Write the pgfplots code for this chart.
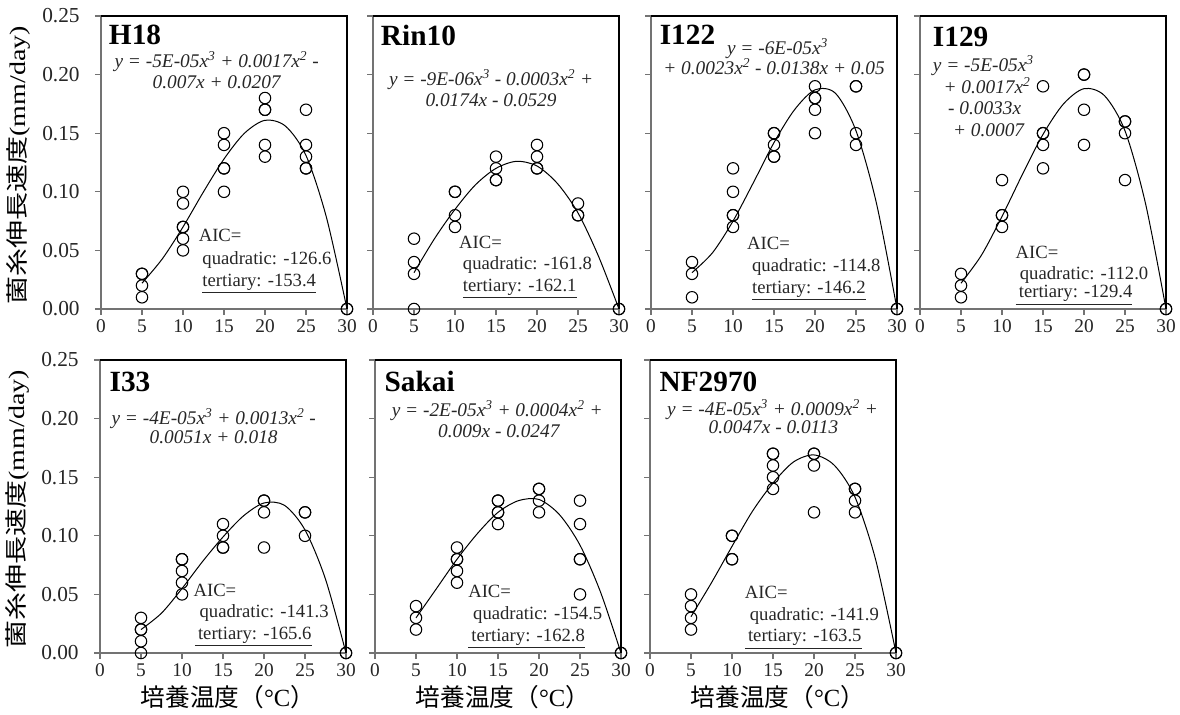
\documentclass[border=0pt]{standalone}
\usepackage{pgfplots}
\pgfplotsset{compat=1.18}
\usepackage{fontspec}
\setmainfont{Liberation Serif}
\newfontfamily\cjk{Noto Sans CJK JP}
\newcommand\tkf{\fontsize{14.5}{16}\selectfont}
\newcommand\tkyf{\fontsize{16}{18}\selectfont}
\newcommand\ttl{\fontsize{22}{24}\selectfont\bfseries}
\newcommand\eqf{\fontsize{14.5}{17}\selectfont\itshape}
\newcommand\aicf{\fontsize{14}{16}\selectfont}
\newcommand\sq{\textsuperscript{2}}
\newcommand\cb{\textsuperscript{3}}
\pgfplotsset{
  panel/.style={
    scale only axis, width=184.5pt, height=219.75pt,
    xmin=0, xmax=30, ymin=0, ymax=0.25,
    xtick={0,5,10,15,20,25,30},
    ytick={0,0.05,0.1,0.15,0.2,0.25},
    tick align=outside, major tick length=4.5pt,
    axis x line*=bottom, axis y line*=left,
    axis line style={black!55, line width=0.9pt},
    tick style={black!55, line width=0.9pt},
    xticklabel style={font=\tkf, text=black!85},
    /pgf/number format/assume math mode=true,
    yticklabel style={font=\tkyf, text=black!85, xshift=-8pt, /pgf/number format/fixed, /pgf/number format/fixed zerofill, /pgf/number format/precision=2},
    clip=false,
    after end axis/.code={\draw[black, line width=0.8pt] (rel axis cs:0,1) -- (rel axis cs:1,1) -- (rel axis cs:1,0);},
  },
  noy/.style={yticklabels={}},
  ylab/.style={ylabel={\scalebox{1}[0.8]{{\cjk 菌糸伸長速度}(mm/day)}}, ylabel style={font=\fontsize{21}{23}\selectfont, at={(axis description cs:-0.337,0.49)}, anchor=center}},
  xlab/.style={xlabel={{\cjk 培養温度（}°C{\cjk ）}}, xlabel style={font=\fontsize{18.5}{20}\selectfont, at={(axis description cs:0.52,-0.15)}, anchor=center}},
  pts/.style={only marks, mark=o, mark size=4.3pt, black, mark options={line width=0.8pt}},
  fit/.style={smooth, black, line width=0.75pt, no marks},
}
\begin{document}
\begin{tikzpicture}
\useasboundingbox (0,0) rectangle (885pt,535.5pt);
% ---------- H18
\begin{axis}[panel, ylab, at={(75.75pt,303.75pt)}, anchor=south west]
\addplot[pts] table {
x y
5 0.03
5 0.03
5 0.02
5 0.01
10 0.10
10 0.09
10 0.07
10 0.07
10 0.06
10 0.05
15 0.15
15 0.14
15 0.12
15 0.12
15 0.10
20 0.18
20 0.17
20 0.17
20 0.14
20 0.13
25 0.17
25 0.14
25 0.13
25 0.12
25 0.12
30 0
30 0
};
\addplot[fit] table {
x y
5 0.022
7.5 0.043
10 0.070
12.5 0.100
15 0.128
17.5 0.150
20 0.161
22.5 0.156
25 0.131
27.5 0.078
30 0
};
\node[anchor=base west, font=\ttl] at (axis cs:0.4,0.226) {H18};
\node[anchor=base, font=\eqf, text=black!85] at (axis cs:14.1,0.206) {y = -5E-05x\cb{} + 0.0017x\sq{} -};
\node[anchor=base, font=\eqf, text=black!85] at (axis cs:14.1,0.188) {0.007x + 0.0207};
\node[anchor=base west, font=\aicf, text=black!85] at (axis cs:11.35,0.0577) {AIC=};
\node[anchor=base west, font=\aicf, text=black!85] at (axis cs:11.8,0.0378) {quadratic: -126.6};
\node[anchor=base west, font=\aicf, text=black!85] at (axis cs:11.8,0.0193) {\underline{tertiary: -153.4}};
\end{axis}
% ---------- Rin10
\begin{axis}[panel, noy, at={(279.75pt,303.75pt)}, anchor=south west]
\addplot[pts] table {
x y
5 0.06
5 0.04
5 0.03
5 0
10 0.10
10 0.10
10 0.08
10 0.07
15 0.13
15 0.12
15 0.11
15 0.11
20 0.14
20 0.13
20 0.12
20 0.12
25 0.09
25 0.08
25 0.08
30 0
30 0
};
\addplot[fit] table {
x y
5 0.031
7.5 0.060
10 0.085
12.5 0.106
15 0.120
17.5 0.126
20 0.122
22.5 0.107
25 0.082
27.5 0.045
30 0
};
\node[anchor=base west, font=\ttl] at (axis cs:0.4,0.2244) {Rin10};
\node[anchor=base, font=\eqf, text=black!85] at (axis cs:14.4,0.191) {y = -9E-06x\cb{} - 0.0003x\sq{} +};
\node[anchor=base, font=\eqf, text=black!85] at (axis cs:14.4,0.173) {0.0174x - 0.0529};
\node[anchor=base west, font=\aicf, text=black!85] at (axis cs:9.93,0.052) {AIC=};
\node[anchor=base west, font=\aicf, text=black!85] at (axis cs:10.4,0.0335) {quadratic: -161.8};
\node[anchor=base west, font=\aicf, text=black!85] at (axis cs:10.4,0.015) {\underline{tertiary: -162.1}};
\end{axis}
% ---------- I122
\begin{axis}[panel, noy, at={(488.25pt,303.75pt)}, anchor=south west]
\addplot[pts] table {
x y
5 0.04
5 0.03
5 0.01
10 0.12
10 0.10
10 0.08
10 0.08
10 0.07
15 0.15
15 0.15
15 0.14
15 0.13
15 0.13
20 0.19
20 0.18
20 0.18
20 0.17
20 0.15
25 0.19
25 0.19
25 0.15
25 0.14
30 0
30 0
};
\addplot[fit] table {
x y
5 0.031
7.5 0.048
10 0.075
12.5 0.108
15 0.142
17.5 0.170
20 0.187
22.5 0.184
25 0.152
27.5 0.090
30 0
};
\node[anchor=base west, font=\ttl] at (axis cs:0.5,0.2253) {I122};
\node[anchor=base west, font=\eqf, text=black!85] at (axis cs:8.7,0.2168) {y = -6E-05x\cb};
\node[anchor=base, font=\eqf, text=black!85] at (axis cs:15.0,0.1997) {+ 0.0023x\sq{} - 0.0138x + 0.05};
\node[anchor=base west, font=\aicf, text=black!85] at (axis cs:11.15,0.0506) {AIC=};
\node[anchor=base west, font=\aicf, text=black!85] at (axis cs:11.76,0.032) {quadratic: -114.8};
\node[anchor=base west, font=\aicf, text=black!85] at (axis cs:11.76,0.0136) {\underline{tertiary: -146.2}};
\end{axis}
% ---------- I129
\begin{axis}[panel, noy, at={(690pt,303.75pt)}, anchor=south west]
\addplot[pts] table {
x y
5 0.03
5 0.02
5 0.01
10 0.11
10 0.08
10 0.08
10 0.07
15 0.19
15 0.15
15 0.15
15 0.14
15 0.12
20 0.20
20 0.20
20 0.17
20 0.14
25 0.16
25 0.16
25 0.15
25 0.11
30 0
30 0
};
\addplot[fit] table {
x y
5 0.022
7.5 0.046
10 0.079
12.5 0.115
15 0.149
17.5 0.175
20 0.188
22.5 0.182
25 0.152
27.5 0.090
30 0
};
\node[anchor=base west, font=\ttl] at (axis cs:1.0,0.224) {I129};
\node[anchor=base west, font=\eqf, text=black!85] at (axis cs:1.0,0.2028) {y = -5E-05x\cb};
\node[anchor=base west, font=\eqf, text=black!85] at (axis cs:2.3,0.184) {+ 0.0017x\sq};
\node[anchor=base west, font=\eqf, text=black!85] at (axis cs:2.85,0.166) {- 0.0033x};
\node[anchor=base west, font=\eqf, text=black!85] at (axis cs:3.46,0.147) {+ 0.0007};
\node[anchor=base west, font=\aicf, text=black!85] at (axis cs:11.1,0.0435) {AIC=};
\node[anchor=base west, font=\aicf, text=black!85] at (axis cs:11.6,0.025) {quadratic: -112.0};
\node[anchor=base west, font=\aicf, text=black!85] at (axis cs:11.1,0.0094) {\underline{\,tertiary: -129.4}};
\end{axis}
% ---------- I33
\begin{axis}[panel, ylab, xlab, at={(75pt,45.75pt)}, anchor=south west]
\addplot[pts] table {
x y
5 0.03
5 0.02
5 0.02
5 0.01
5 0
10 0.08
10 0.08
10 0.07
10 0.06
10 0.05
15 0.11
15 0.10
15 0.09
15 0.09
20 0.13
20 0.13
20 0.12
20 0.09
25 0.12
25 0.12
25 0.10
30 0
30 0
};
\addplot[fit] table {
x y
5 0.020
7.5 0.034
10 0.055
12.5 0.078
15 0.099
17.5 0.117
20 0.128
22.5 0.126
25 0.105
27.5 0.063
30 0
};
\node[anchor=base west, font=\ttl] at (axis cs:0.6,0.2229) {I33};
\node[anchor=base, font=\eqf, text=black!85] at (axis cs:13.86,0.1953) {y = -4E-05x\cb{} + 0.0013x\sq{} -};
\node[anchor=base, font=\eqf, text=black!85] at (axis cs:13.86,0.1787) {0.0051x + 0.018};
\node[anchor=base west, font=\aicf, text=black!85] at (axis cs:10.84,0.0485) {AIC=};
\node[anchor=base west, font=\aicf, text=black!85] at (axis cs:11.57,0.030) {quadratic: -141.3};
\node[anchor=base west, font=\aicf, text=black!85] at (axis cs:11.0,0.0114) {\underline{\,tertiary: -165.6}};
\end{axis}
% ---------- Sakai
\begin{axis}[panel, noy, xlab, at={(281.25pt,45.75pt)}, anchor=south west]
\addplot[pts] table {
x y
5 0.04
5 0.03
5 0.02
10 0.09
10 0.08
10 0.08
10 0.07
10 0.06
15 0.13
15 0.13
15 0.12
15 0.12
15 0.11
20 0.14
20 0.14
20 0.13
20 0.12
25 0.13
25 0.11
25 0.08
25 0.08
25 0.05
30 0
30 0
};
\addplot[fit] table {
x y
5 0.030
7.5 0.055
10 0.080
12.5 0.102
15 0.120
17.5 0.130
20 0.131
22.5 0.118
25 0.092
27.5 0.052
30 0
};
\node[anchor=base west, font=\ttl] at (axis cs:0.6,0.2229) {Sakai};
\node[anchor=base, font=\eqf, text=black!85] at (axis cs:14.9,0.2018) {y = -2E-05x\cb{} + 0.0004x\sq{} +};
\node[anchor=base, font=\eqf, text=black!85] at (axis cs:15.1,0.1839) {0.009x - 0.0247};
\node[anchor=base west, font=\aicf, text=black!85] at (axis cs:10.8,0.047) {AIC=};
\node[anchor=base west, font=\aicf, text=black!85] at (axis cs:11.4,0.0285) {quadratic: -154.5};
\node[anchor=base west, font=\aicf, text=black!85] at (axis cs:10.8,0.010) {\underline{\,tertiary: -162.8}};
\end{axis}
% ---------- NF2970
\begin{axis}[panel, noy, xlab, at={(487.5pt,45.75pt)}, anchor=south west]
\addplot[pts] table {
x y
5 0.05
5 0.04
5 0.03
5 0.02
10 0.10
10 0.10
10 0.08
10 0.08
15 0.17
15 0.17
15 0.16
15 0.15
15 0.14
20 0.17
20 0.17
20 0.16
20 0.12
25 0.14
25 0.14
25 0.13
25 0.12
30 0
30 0
};
\addplot[fit] table {
x y
5 0.031
7.5 0.060
10 0.091
12.5 0.121
15 0.145
17.5 0.163
20 0.169
22.5 0.160
25 0.133
27.5 0.080
30 0
};
\node[anchor=base west, font=\ttl] at (axis cs:0.6,0.2229) {NF2970};
\node[anchor=base, font=\eqf, text=black!85] at (axis cs:14.94,0.2025) {y = -4E-05x\cb{} + 0.0009x\sq{} +};
\node[anchor=base, font=\eqf, text=black!85] at (axis cs:15.06,0.1870) {0.0047x - 0.0113};
\node[anchor=base west, font=\aicf, text=black!85] at (axis cs:11.0,0.0466) {AIC=};
\node[anchor=base west, font=\aicf, text=black!85] at (axis cs:11.6,0.028) {quadratic: -141.9};
\node[anchor=base west, font=\aicf, text=black!85] at (axis cs:11.0,0.0094) {\underline{\,tertiary: -163.5}};
\end{axis}
\end{tikzpicture}
\end{document}
